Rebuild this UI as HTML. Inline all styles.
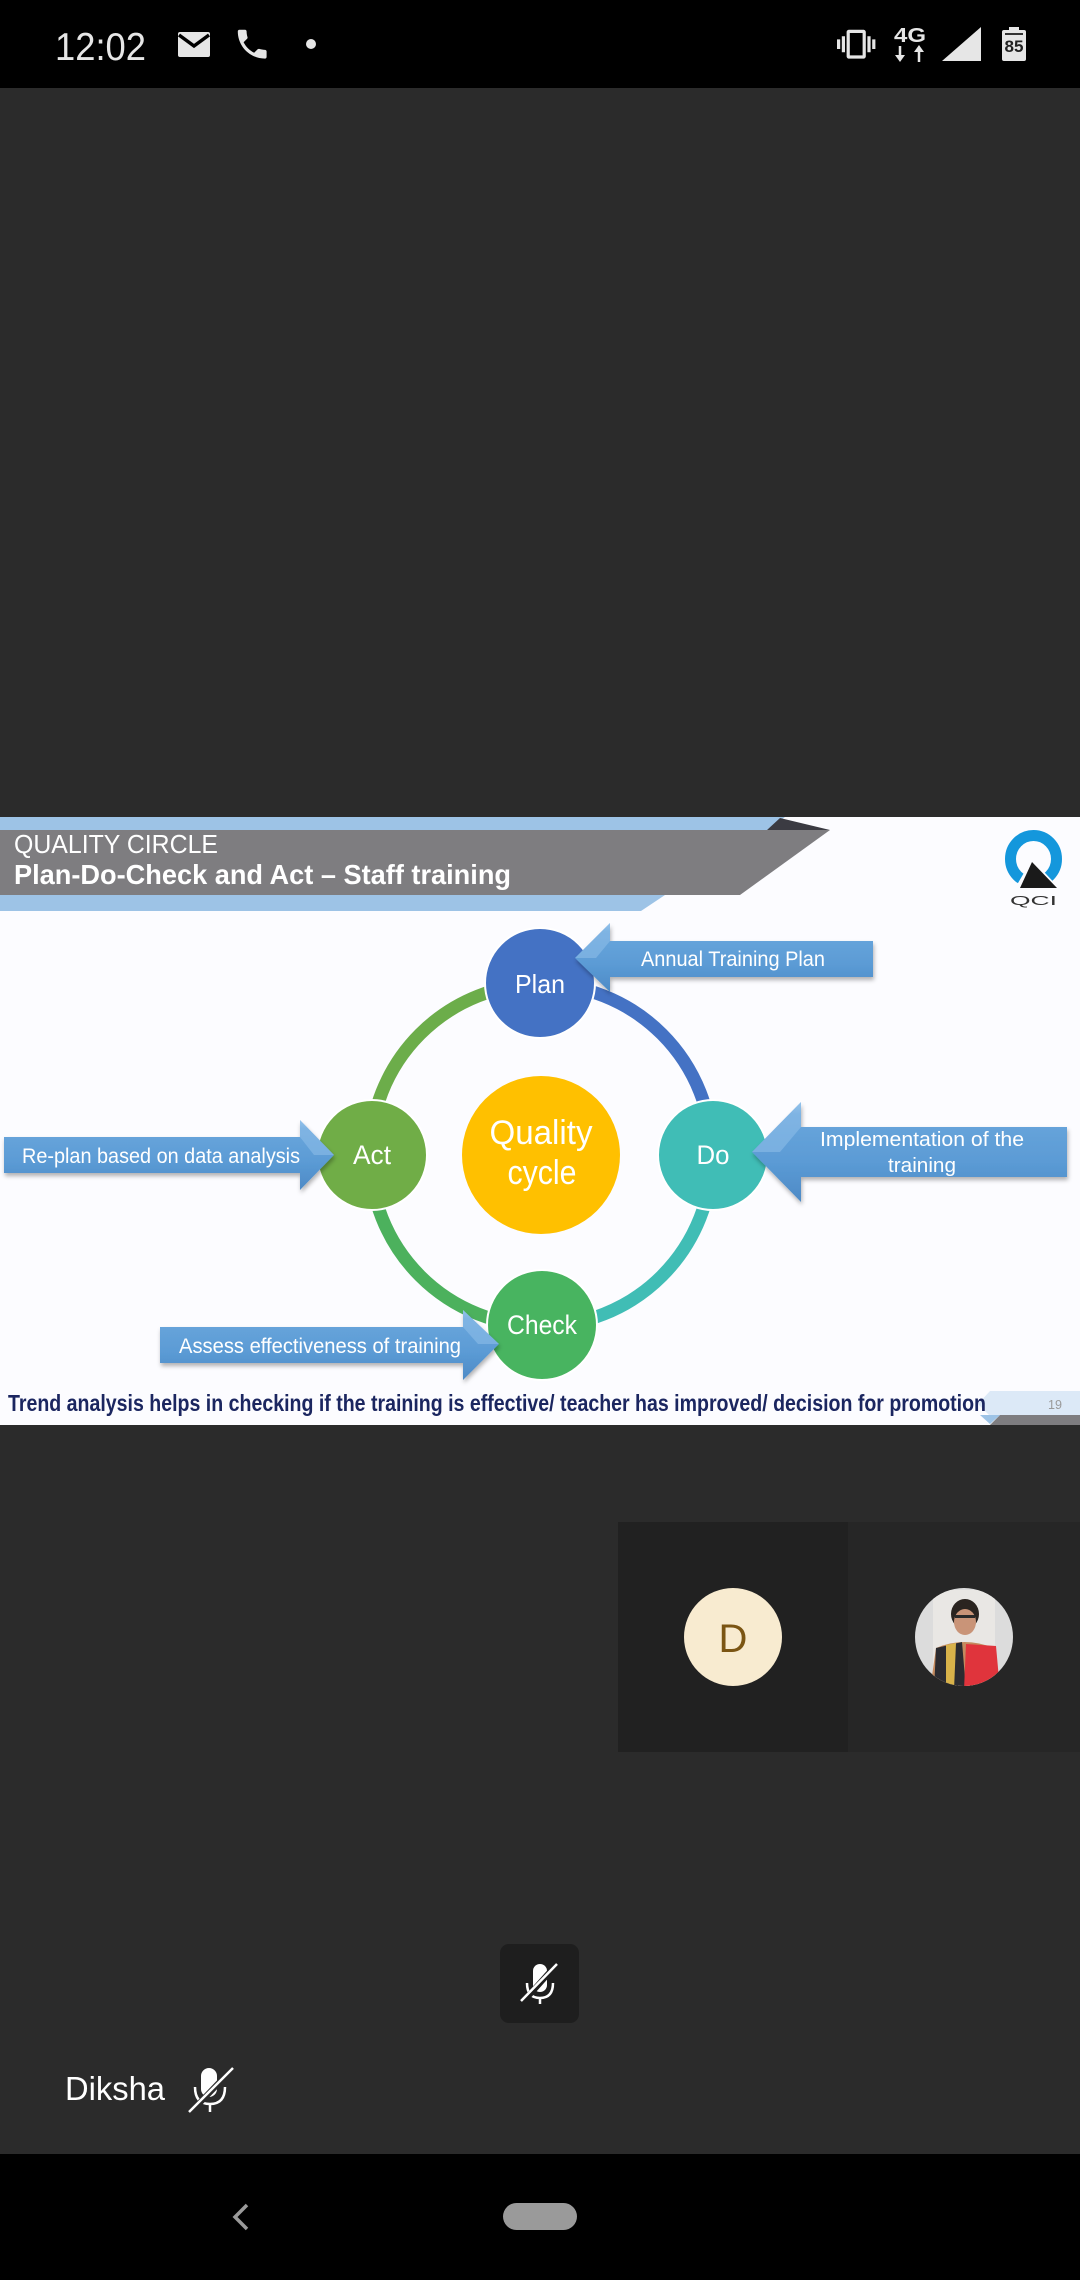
<!DOCTYPE html>
<html><head><meta charset="utf-8">
<style>
html,body{margin:0;padding:0;background:#2b2b2b;}
body{width:1080px;height:2280px;position:relative;overflow:hidden;font-family:"Liberation Sans",sans-serif;}
svg{position:absolute;left:0;top:0;}
</style></head>
<body>
<svg width="1080" height="2280" viewBox="0 0 1080 2280" xmlns="http://www.w3.org/2000/svg">
<defs>
  <linearGradient id="arr" x1="0" y1="0" x2="0" y2="1">
    <stop offset="0" stop-color="#9cc8ee"/>
    <stop offset="0.12" stop-color="#6aa6dc"/>
    <stop offset="0.6" stop-color="#5b9bd5"/>
    <stop offset="1" stop-color="#4d8ac6"/>
  </linearGradient>
  <filter id="sh" x="-10%" y="-30%" width="130%" height="170%">
    <feDropShadow dx="1" dy="3" stdDeviation="2" flood-color="#000" flood-opacity="0.3"/>
  </filter>
  <clipPath id="av2"><circle cx="964" cy="1637" r="49"/></clipPath>
</defs>

<!-- status bar -->
<rect x="0" y="0" width="1080" height="88" fill="#000"/>
<text x="55" y="60" font-size="39" fill="#e6e6e6" textLength="91" lengthAdjust="spacingAndGlyphs">12:02</text>
<rect x="178" y="32" width="32" height="25" rx="2" fill="#e6e6e6"/>
<polyline points="179,35 194,46 209,35" fill="none" stroke="#000" stroke-width="3.5"/>
<path transform="translate(233,25) scale(1.6)" fill="#e6e6e6" d="M6.62 10.79c1.44 2.83 3.76 5.14 6.59 6.590l2.2-2.2c.27-.27.67-.36 1.02-.24 1.12.37 2.33.57 3.57.57.55 0 1 .45 1 1V20c0 .55-.45 1-1 1-9.39 0-17-7.61-17-17 0-.55.45-1 1-1h3.5c.55 0 1 .45 1 1 0 1.25.2 2.45.57 3.57.11.35.03.74-.25 1.02l-2.2 2.2z"/>
<circle cx="311" cy="44" r="5" fill="#e6e6e6"/>
<path transform="translate(837,25) scale(1.6)" fill="#e6e6e6" d="M0 15h2V9H0v6zm3 2h2V7H3v10zm19-8v6h2V9h-2zm-3 8h2V7h-2v10zM16.5 3h-9C6.670 3 6 3.67 6 4.5v15c0 .83.67 1.5 1.5 1.5h9c.83 0 1.5-.67 1.5-1.5v-15c0-.83-.67-1.5-1.5-1.5zM16 19H8V5h8v14z"/>
<text x="894" y="42" font-size="20" font-weight="bold" fill="#e6e6e6" textLength="32" lengthAdjust="spacingAndGlyphs">4G</text>
<line x1="900" y1="46" x2="900" y2="59" stroke="#e6e6e6" stroke-width="2.5"/>
<polygon points="895,55 905,55 900,62" fill="#e6e6e6"/>
<line x1="919" y1="49" x2="919" y2="62" stroke="#e6e6e6" stroke-width="2.5"/>
<polygon points="914,52 924,52 919,45" fill="#e6e6e6"/>
<polygon points="942,61 981,27 981,61" fill="#e6e6e6"/>
<rect x="1009" y="27" width="10" height="4" fill="#e6e6e6"/>
<rect x="1002" y="30" width="24" height="31" rx="2" fill="#e6e6e6"/>
<rect x="1005" y="33" width="18" height="2" fill="#333"/>
<text x="1014" y="52" font-size="17" font-weight="bold" fill="#222" text-anchor="middle" textLength="19" lengthAdjust="spacingAndGlyphs">85</text>

<!-- slide -->
<rect x="0" y="817" width="1080" height="608" fill="#fcfcff"/>
<polygon points="0,817 785,817 767,830 0,830" fill="#9dc3e6"/>
<polygon points="780,818 830,830 767,830" fill="#3b3b42"/>
<polygon points="0,830 830,830 740,895 0,895" fill="#7e7d80"/>
<polygon points="0,895 665,895 641,911 0,911" fill="#9dc3e6"/>
<text x="14" y="853" font-size="26" fill="#ffffff" textLength="204" lengthAdjust="spacingAndGlyphs">QUALITY CIRCLE</text>
<text x="14" y="884" font-size="28" font-weight="bold" fill="#ffffff" textLength="497" lengthAdjust="spacingAndGlyphs">Plan-Do-Check and Act – Staff training</text>
<!-- QCI logo -->
<ellipse cx="1033.5" cy="859" rx="23" ry="23.5" fill="none" stroke="#1497dc" stroke-width="11"/>
<polygon points="1032,859 1014,890 1061,890" fill="#fcfcff"/>
<polygon points="1032,862 1020,888 1057,888" fill="#1a1a1a"/>
<text x="1010" y="905" font-size="13" fill="#333" textLength="47" lengthAdjust="spacingAndGlyphs">QCI</text>

<!-- ring -->
<g fill="none" stroke-width="13">
  <path d="M541,984 A171,171 0 0 1 712,1155" stroke="#4472c4"/>
  <path d="M712,1155 A171,171 0 0 1 541,1326" stroke="#40bdb5"/>
  <path d="M541,1326 A171,171 0 0 1 370,1155" stroke="#4cb15d"/>
  <path d="M370,1155 A171,171 0 0 1 541,984" stroke="#6cad4a"/>
</g>
<g stroke="#ffffff" stroke-width="2">
  <circle cx="540" cy="983" r="55" fill="#4472c4"/>
  <circle cx="713" cy="1155" r="55" fill="#40bdb6"/>
  <circle cx="542" cy="1325" r="55" fill="#48b460"/>
  <circle cx="372" cy="1155" r="55" fill="#70ad47"/>
</g>
<circle cx="541" cy="1155" r="79" fill="#ffc000"/>
<g fill="#ffffff" text-anchor="middle">
  <text x="540" y="993" font-size="26" textLength="50" lengthAdjust="spacingAndGlyphs">Plan</text>
  <text x="713" y="1164" font-size="27" textLength="33" lengthAdjust="spacingAndGlyphs">Do</text>
  <text x="542" y="1334" font-size="27" textLength="70" lengthAdjust="spacingAndGlyphs">Check</text>
  <text x="372" y="1164" font-size="27" textLength="38" lengthAdjust="spacingAndGlyphs">Act</text>
  <text x="541" y="1144" font-size="34" textLength="103" lengthAdjust="spacingAndGlyphs">Quality</text>
  <text x="542" y="1184" font-size="34" textLength="69" lengthAdjust="spacingAndGlyphs">cycle</text>
</g>

<!-- arrows -->
<g filter="url(#sh)">
  <path d="M575,958 L610,923 L610,941 L873,941 L873,977 L610,977 L610,992 Z" fill="url(#arr)"/>
  <path d="M752,1152 L801,1102 L801,1127 L1067,1127 L1067,1177 L801,1177 L801,1202 Z" fill="url(#arr)"/>
  <path d="M4,1137 L300,1137 L300,1120 L334,1155 L300,1190 L300,1173 L4,1173 Z" fill="url(#arr)"/>
  <path d="M160,1327 L463,1327 L463,1310 L499,1344 L463,1380 L463,1363 L160,1363 Z" fill="url(#arr)"/>
</g>
<g fill="#8fc0ea" opacity="0.55">
  <polygon points="575,958 610,923 610,941 596,958"/>
  <polygon points="752,1152 801,1102 801,1127 780,1152"/>
  <polygon points="334,1155 300,1120 300,1137 314,1155"/>
  <polygon points="499,1344 463,1310 463,1327 478,1344"/>
</g>
<g fill="#ffffff">
  <text x="641" y="966" font-size="21" textLength="184" lengthAdjust="spacingAndGlyphs">Annual Training Plan</text>
  <text x="922" y="1146" font-size="20" text-anchor="middle" textLength="204" lengthAdjust="spacingAndGlyphs">Implementation of the</text>
  <text x="922" y="1172" font-size="20" text-anchor="middle" textLength="68" lengthAdjust="spacingAndGlyphs">training</text>
  <text x="22" y="1163" font-size="21" textLength="278" lengthAdjust="spacingAndGlyphs">Re-plan based on data analysis</text>
  <text x="179" y="1353" font-size="21" textLength="282" lengthAdjust="spacingAndGlyphs">Assess effectiveness of training</text>
</g>

<!-- footer -->
<polygon points="990,1391 1080,1391 1080,1416 990,1416 978,1404" fill="#dce9f7"/>
<polygon points="1000,1415 1080,1415 1080,1425 990,1425" fill="#7e7d80"/>
<polygon points="980,1415 1000,1415 990,1424" fill="#9dc3e6"/>
<text x="1048" y="1409" font-size="13" fill="#9a9a9a" textLength="14" lengthAdjust="spacingAndGlyphs">19</text>
<text x="8" y="1411" font-size="23" font-weight="bold" fill="#1b2660" textLength="978" lengthAdjust="spacingAndGlyphs">Trend analysis helps in checking if the training is effective/ teacher has improved/ decision for promotion</text>

<!-- participant tiles -->
<rect x="618" y="1522" width="230" height="230" fill="#212121"/>
<rect x="848" y="1522" width="232" height="230" fill="#262626"/>
<circle cx="733" cy="1637" r="49" fill="#f8ebd0"/>
<text x="733" y="1652" font-size="40" fill="#7b5513" text-anchor="middle">D</text>
<g clip-path="url(#av2)">
  <rect x="915" y="1588" width="98" height="98" fill="#dcdcdc"/>
  <rect x="933" y="1590" width="62" height="96" fill="#e9e7e4"/>
  <ellipse cx="965" cy="1614" rx="14" ry="15" fill="#2a2420"/>
  <ellipse cx="965" cy="1622" rx="11" ry="13" fill="#c99478"/>
  <rect x="955" y="1615" width="20" height="3" fill="#2a2a2a"/>
  <path d="M936,1648 Q964,1636 994,1648 L1000,1690 L930,1690 Z" fill="#c48a5e"/>
  <path d="M936,1648 L962,1642 L966,1690 L934,1690 Z" fill="#2b2b30"/>
  <path d="M946,1645 L956,1643 L954,1690 L946,1690 Z" fill="#d8b24a"/>
  <path d="M966,1644 L996,1646 L1000,1690 L964,1690 Z" fill="#e0343c"/>
</g>

<!-- mic button -->
<rect x="500" y="1944" width="79" height="79" rx="9" fill="#1e1e1e"/>
<g stroke="#ffffff" fill="none" stroke-width="2.5">
  <rect x="533" y="1964" width="14" height="28" rx="7" fill="#ffffff" stroke="none"/>
  <path d="M527,1983 Q527,1998 540,1998 Q553,1998 553,1983"/>
  <line x1="540" y1="1998" x2="540" y2="2004"/>
  <line x1="523" y1="2002" x2="557" y2="1964" stroke="#1e1e1e" stroke-width="6"/>
  <line x1="521" y1="2001" x2="557" y2="1964"/>
</g>

<!-- Diksha label -->
<text x="65" y="2100" font-size="33" fill="#ffffff" textLength="100" lengthAdjust="spacingAndGlyphs">Diksha</text>
<g stroke="#ffffff" fill="none" stroke-width="2.5">
  <rect x="201" y="2068" width="16" height="29" rx="8" fill="#ffffff" stroke="none"/>
  <path d="M195,2087 Q195,2104 210,2104 Q225,2104 225,2087"/>
  <line x1="210" y1="2104" x2="210" y2="2112"/>
  <line x1="191" y1="2112" x2="235" y2="2066" stroke="#2b2b2b" stroke-width="6"/>
  <line x1="189" y1="2112" x2="233" y2="2068"/>
</g>

<!-- nav bar -->
<rect x="0" y="2154" width="1080" height="126" fill="#000"/>
<polyline points="247,2205 235,2217 247,2229" fill="none" stroke="#9a9a9a" stroke-width="3.5"/>
<rect x="503" y="2203" width="74" height="27" rx="13.5" fill="#9a9a9a"/>
</svg>
</body></html>
